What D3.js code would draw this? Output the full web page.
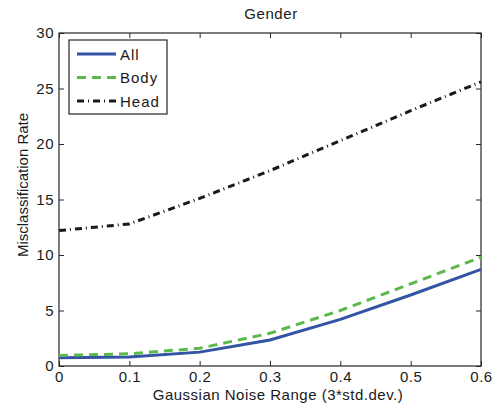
<!DOCTYPE html>
<html>
<head>
<meta charset="utf-8">
<script src="https://cdn.jsdelivr.net/npm/d3@7"></script>
<style>
  body { margin: 0; background: #fff; }
  text { font-family: "Liberation Sans", Arial, sans-serif; fill: #1a1a1a; letter-spacing: 0.5px; }
</style>
</head>
<body>
<div class="vis"></div>
<script>
const noise = [0, 0.1, 0.2, 0.3, 0.4, 0.5, 0.6];
const allRate = [0.75, 0.8, 1.25, 2.35, 4.2, 6.4, 8.7];
const bodyRate = [0.95, 1.1, 1.6, 2.95, 5.0, 7.4, 9.8];
const headRate = [12.2, 12.8, 15.1, 17.6, 20.3, 23.0, 25.6];
const xTicks = [0, 0.1, 0.2, 0.3, 0.4, 0.5, 0.6];
const yTicks = [0, 5, 10, 15, 20, 25, 30];

const series = [
  { name: "All", values: allRate, color: "#3353a5", dash: null },
  { name: "Body", values: bodyRate, color: "#5cb84a", dash: "9,6" },
  { name: "Head", values: headRate, color: "#1a1a1a", dash: "7,4,1,4" },
];

const W = 497, H = 410;
const margin = { top: 33, right: 16, bottom: 44, left: 59 };
const width = W - margin.left - margin.right;
const height = H - margin.top - margin.bottom;

const svg = d3.select(".vis").append("svg")
  .attr("width", W).attr("height", H);

const g = svg.append("g")
  .attr("transform", "translate(" + margin.left + "," + margin.top + ")");

const x = d3.scaleLinear().domain([0, 0.6]).range([0, width]);
const y = d3.scaleLinear().domain([0, 30]).range([height, 0]);

// axes, matlab style: ticks inward, box all round
const fmt = d => d === 0 ? "0" : String(d);
g.append("g")
  .attr("transform", "translate(0," + height + ")")
  .call(d3.axisBottom(x).tickValues(xTicks).tickFormat(fmt).tickSize(-5).tickPadding(5))
  .call(a => a.selectAll("text").attr("font-size", 15))
  .call(a => a.select(".domain").remove());
g.append("g")
  .call(d3.axisTop(x).tickValues(xTicks).tickFormat("").tickSize(-5))
  .call(a => a.select(".domain").remove());
g.append("g")
  .call(d3.axisLeft(y).tickValues(yTicks).tickFormat(fmt).tickSize(-5).tickPadding(5))
  .call(a => a.selectAll("text").attr("font-size", 15))
  .call(a => a.select(".domain").remove());
g.append("g")
  .attr("transform", "translate(" + width + ",0)")
  .call(d3.axisRight(y).tickValues(yTicks).tickFormat("").tickSize(-5))
  .call(a => a.select(".domain").remove());
g.selectAll(".tick line").attr("stroke", "#262626");

g.append("rect")
  .attr("width", width).attr("height", height)
  .attr("fill", "none").attr("stroke", "#262626").attr("stroke-width", 1.2);

const line = d3.line()
  .x((d, i) => x(noise[i]))
  .y(d => y(d));

series.forEach(s => {
  g.append("path")
    .datum(s.values)
    .attr("fill", "none")
    .attr("stroke", s.color)
    .attr("stroke-width", 3)
    .attr("stroke-dasharray", s.dash)
    .attr("d", line);
});

// legend
const leg = g.append("g").attr("transform", "translate(10,7)");
leg.append("rect")
  .attr("width", 98).attr("height", 74)
  .attr("fill", "#fff").attr("stroke", "#262626").attr("stroke-width", 1.2);
series.forEach((s, i) => {
  const ly = 14 + i * 23.5;
  leg.append("line")
    .attr("x1", 8).attr("x2", 47).attr("y1", ly).attr("y2", ly)
    .attr("stroke", s.color).attr("stroke-width", 3)
    .attr("stroke-dasharray", s.dash);
  leg.append("text")
    .attr("x", 51).attr("y", ly + 5.5)
    .attr("font-size", 15)
    .style("letter-spacing", "1px")
    .text(s.name);
});

// title and labels
svg.append("text")
  .attr("x", 271).attr("y", 19)
  .attr("text-anchor", "middle").attr("font-size", 15)
  .style("letter-spacing", "0.6px")
  .text("Gender");
svg.append("text")
  .attr("x", 278).attr("y", 400)
  .attr("text-anchor", "middle").attr("font-size", 15)
  .text("Gaussian Noise Range (3*std.dev.)");
svg.append("text")
  .attr("transform", "translate(28,185) rotate(-90)")
  .attr("text-anchor", "middle").attr("font-size", 15)
  .style("letter-spacing", "0px")
  .text("Misclassification Rate");
</script>
</body>
</html>
